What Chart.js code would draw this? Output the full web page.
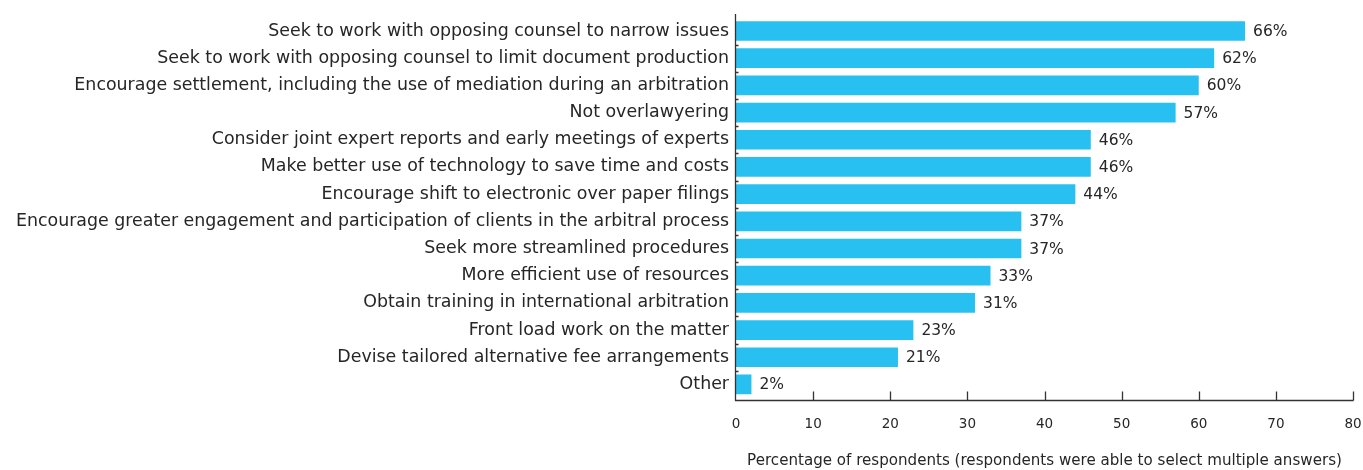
<!DOCTYPE html>
<html>
<head>
<meta charset="utf-8">
<script src="https://cdn.jsdelivr.net/npm/chart.js@4.4.0/dist/chart.umd.min.js"></script>
<style>
  html, body { margin: 0; padding: 0; background: #fff; }
  #wrap { width: 1363px; height: 470px; }
</style>
</head>
<body>
<div id="wrap"><canvas id="barChart" width="1363" height="470"></canvas></div>
<script>
// Values
const categories = [
  'Seek to work with opposing counsel to narrow issues',
  'Seek to work with opposing counsel to limit document production',
  'Encourage settlement, including the use of mediation during an arbitration',
  'Not overlawyering',
  'Consider joint expert reports and early meetings of experts',
  'Make better use of technology to save time and costs',
  'Encourage shift to electronic over paper filings',
  'Encourage greater engagement and participation of clients in the arbitral process',
  'Seek more streamlined procedures',
  'More efficient use of resources',
  'Obtain training in international arbitration',
  'Front load work on the matter',
  'Devise tailored alternative fee arrangements',
  'Other'
];
const percentages = [66, 62, 60, 57, 46, 46, 44, 37, 37, 33, 31, 23, 21, 2];
const xTicks = [0, 10, 20, 30, 40, 50, 60, 70, 80];
const xTitle = 'Percentage of respondents (respondents were able to select multiple answers)';

const FONT = '"DejaVu Sans", Verdana, sans-serif';
const TEXT = '#262626';
const AXIS = '#333333';

// value labels at the end of each bar
const valueLabels = {
  id: 'valueLabels',
  afterDatasetsDraw(chart) {
    const ctx = chart.ctx;
    const meta = chart.getDatasetMeta(0);
    ctx.save();
    ctx.font = '15.5px ' + FONT;
    ctx.fillStyle = TEXT;
    ctx.textBaseline = 'middle';
    ctx.textAlign = 'left';
    meta.data.forEach((bar, i) => {
      ctx.fillText(percentages[i] + '%', bar.x + 8, bar.y + 1);
    });
    ctx.restore();
  }
};

// axis lines with short inward ticks
const axisTicks = {
  id: 'axisTicks',
  afterDraw(chart) {
    const ctx = chart.ctx;
    const x = chart.scales.x, y = chart.scales.y;
    const area = chart.chartArea;
    const base = Math.round(area.bottom + 2) + 0.5;
    const left = Math.round(area.left) - 0.5;
    ctx.save();
    ctx.strokeStyle = AXIS;
    ctx.lineWidth = 1.3;
    ctx.beginPath();
    ctx.moveTo(left, 14);
    ctx.lineTo(left, base);
    ctx.lineTo(Math.round(area.right) + 0.5, base);
    ctx.stroke();
    ctx.beginPath();
    xTicks.forEach(v => {
      if (v === 0) return;
      const px = Math.round(x.getPixelForValue(v)) + 0.5;
      ctx.moveTo(px, base);
      ctx.lineTo(px, base - 9);
    });
    for (let i = 1; i < categories.length; i++) {
      const py = Math.round((y.getPixelForValue(i - 1) + y.getPixelForValue(i)) / 2) + 0.5;
      ctx.moveTo(left, py);
      ctx.lineTo(left + 3, py);
    }
    ctx.stroke();
    ctx.restore();
  }
};

new Chart(document.getElementById('barChart').getContext('2d'), {
  type: 'bar',
  data: {
    labels: categories,
    datasets: [{
      data: percentages,
      backgroundColor: '#28C0F0',
      borderWidth: 0,
      categoryPercentage: 0.724,
      barPercentage: 1.0
    }]
  },
  options: {
    indexAxis: 'y',
    responsive: false,
    animation: false,
    layout: { padding: { left: 0, right: 10, top: 11, bottom: 0 } },
    plugins: { legend: { display: false }, tooltip: { enabled: false } },
    scales: {
      x: {
        min: 0, max: 80,
        afterBuildTicks(scale) { scale.ticks = xTicks.map(v => ({ value: v })); },
        grid: { display: false, drawTicks: false },
        border: { display: false },
        ticks: { color: TEXT, font: { family: FONT, size: 13.5 }, padding: 18, maxRotation: 0 },
        title: { display: true, text: xTitle, color: TEXT, font: { family: FONT, size: 15.1 }, padding: { top: 0, bottom: 0 } },
        afterFit(scale) {
          scale.height = 72;
          scale.paddingLeft = 0;
          scale.paddingRight = 0;
        }
      },
      y: {
        grid: { display: false, drawTicks: false },
        border: { display: false },
        ticks: { color: TEXT, font: { family: FONT, size: 17.4 }, padding: 7, autoSkip: false },
        afterFit(scale) { scale.width = 736; }
      }
    }
  },
  plugins: [valueLabels, axisTicks]
});
</script>
</body>
</html>
